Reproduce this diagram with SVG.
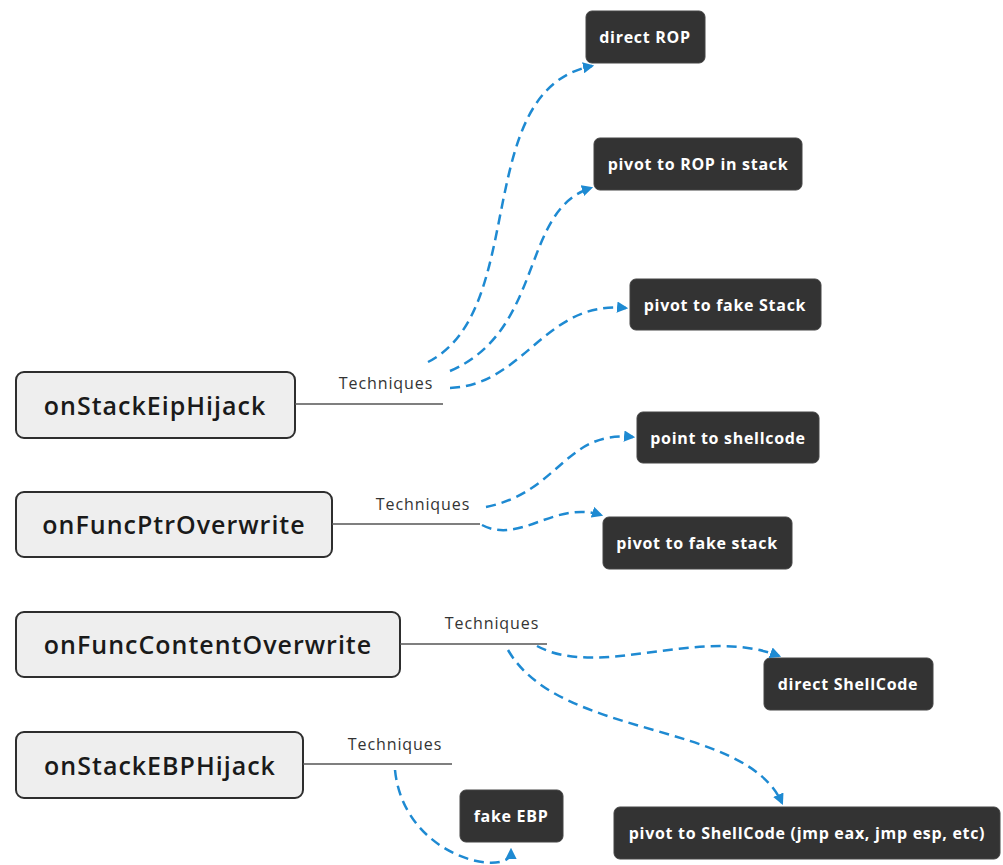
<svg xmlns="http://www.w3.org/2000/svg" width="1003" height="865" viewBox="0 0 1003 865">
<style>
.main rect{fill:#eeeeee;stroke:#2e2e2e;stroke-width:2}
.main text{font-family:"Open Sans",sans-serif;font-weight:600;font-size:25px;letter-spacing:1px;fill:#1a1a1a;text-anchor:middle;dominant-baseline:central}
.sub rect{fill:#333333;stroke:#444;stroke-width:1}
.sub text{font-family:"Open Sans",sans-serif;font-weight:700;font-size:16px;letter-spacing:0.7px;fill:#ffffff;text-anchor:middle;dominant-baseline:central}
.lbl{font-family:"Open Sans",sans-serif;font-size:16px;letter-spacing:0.9px;fill:#333;text-anchor:middle}
.stem{stroke:#555;stroke-width:1.5;fill:none}
.dash{stroke:#1e8ad2;stroke-width:2.5;fill:none;stroke-dasharray:10 6;marker-end:url(#arr)}
</style>
<defs>
<marker id="arr" viewBox="0 0 10 10" refX="8" refY="5" markerWidth="4.5" markerHeight="4.5" orient="auto" markerUnits="strokeWidth">
<path d="M0,0 L10,5 L0,10 z" fill="#1e8ad2"/>
</marker>
</defs>
<rect width="1003" height="865" fill="#ffffff"/>

<g id="onStackEipHijack" class="main"><rect x="16" y="372" width="279" height="66" rx="8"/><text x="155" y="405">onStackEipHijack</text></g>
<g id="onFuncPtrOverwrite" class="main"><rect x="16" y="492" width="316" height="65" rx="8"/><text x="174" y="524">onFuncPtrOverwrite</text></g>
<g id="onFuncContentOverwrite" class="main"><rect x="16" y="612" width="384" height="65" rx="8"/><text x="208" y="644">onFuncContentOverwrite</text></g>
<g id="onStackEBPHijack" class="main"><rect x="16" y="732" width="287" height="66" rx="8"/><text x="160" y="765">onStackEBPHijack</text></g>

<g id="directROP" class="sub"><rect x="586" y="11" width="119" height="52" rx="6"/><text x="645" y="37">direct ROP</text></g>
<g id="pivotROPStack" class="sub"><rect x="594" y="138" width="208" height="52" rx="6"/><text x="698" y="164">pivot to ROP in stack</text></g>
<g id="pivotFakeStack1" class="sub"><rect x="630" y="279" width="191" height="51" rx="6"/><text x="725" y="305">pivot to fake Stack</text></g>
<g id="pointShellcode" class="sub"><rect x="637" y="412" width="182" height="51" rx="6"/><text x="728" y="438">point to shellcode</text></g>
<g id="pivotFakeStack2" class="sub"><rect x="603" y="517" width="189" height="52" rx="6"/><text x="697" y="543">pivot to fake stack</text></g>
<g id="directShellCode" class="sub"><rect x="764" y="658" width="169" height="52" rx="6"/><text x="848" y="684">direct ShellCode</text></g>
<g id="fakeEBP" class="sub"><rect x="460" y="790" width="103" height="52" rx="6"/><text x="511" y="816">fake EBP</text></g>
<g id="pivotShellCode" class="sub"><rect x="614" y="807" width="386" height="52" rx="6"/><text x="807" y="833">pivot to ShellCode (jmp eax, jmp esp, etc)</text></g>

<g id="connectors">
<path class="stem" d="M295,404 H443"/>
<text class="lbl" x="386" y="389">Techniques</text>
<path class="stem" d="M332,524 H480"/>
<text class="lbl" x="423" y="510">Techniques</text>
<path class="stem" d="M400,644 H547"/>
<text class="lbl" x="492" y="629">Techniques</text>
<path class="stem" d="M303,764 H452"/>
<text class="lbl" x="395" y="750">Techniques</text>

<path class="dash" d="M428,362 C530,310 470,90 592,66"/>
<path class="dash" d="M450,371 C545,330 520,210 591,188"/>
<path class="dash" d="M450,388 C525,385 545,300 626,308"/>
<path class="dash" d="M486,507 C560,492 565,430 633,437"/>
<path class="dash" d="M482,525 C520,545 555,500 601,515"/>
<path class="dash" d="M537,646 C600,680 700,625 779,656"/>
<path class="dash" d="M508,650 C560,740 745,720 782,803"/>
<path class="dash" d="M395,770 C402,840 470,868 500,862 C508,860 511,857 511,850"/>
</g>
</svg>
